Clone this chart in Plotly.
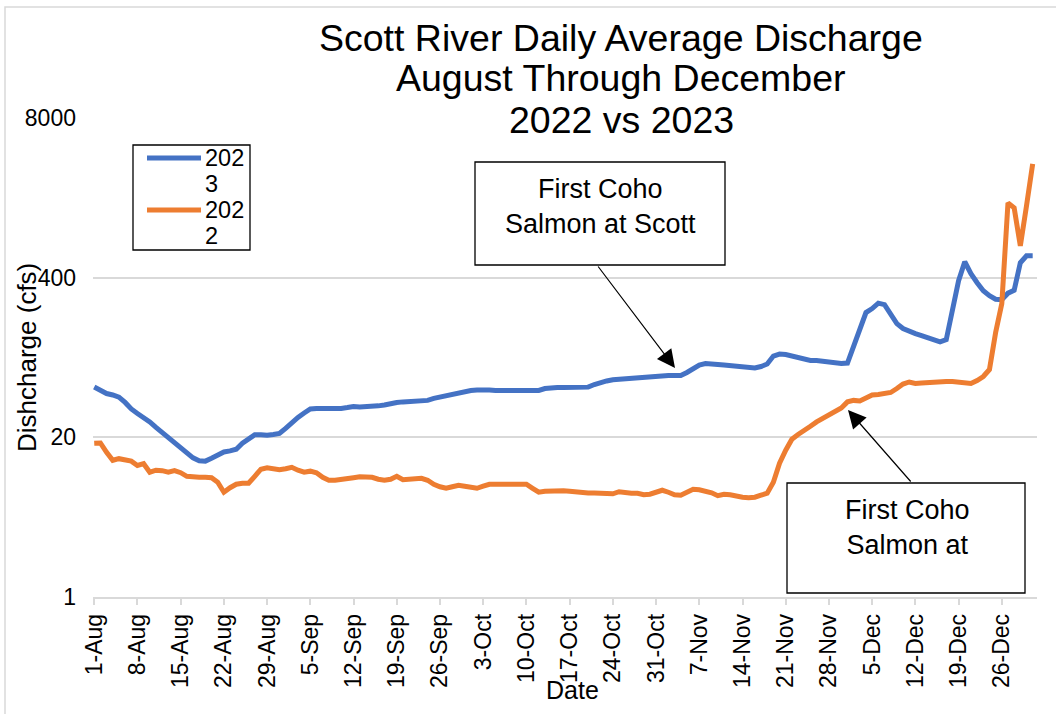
import math
import pandas as pd
import plotly.graph_objects as go

# ---- data ----
dates = [f"{d.day}-{d.strftime('%b')}" for d in pd.date_range("2022-08-01", "2022-12-31")]
tick_labels = dates[::7]
y_ticks = [1, 20, 400, 8000]
series_names = ["2023", "2022"]
series_colors = ["#4472C4", "#ED7D31"]

flow_2023 = [
    51.4, 48.6, 45.5, 44.3, 42.5, 38.5, 34.1, 31.3, 29.1, 26.7,
    24.1, 21.9, 20.0, 17.9, 16.7, 15.1, 13.6, 12.9, 12.8, 13.5,
    14.5, 15.2, 15.5, 16.0, 17.9, 19.6, 21.0, 21.0, 20.8, 21.1,
    21.5, 23.7, 26.5, 29.1, 31.6, 34.1, 34.4, 34.4, 34.1, 33.8,
    34.4, 35.0, 35.7, 35.4, 35.4, 35.7, 36.1, 36.7, 37.8, 38.5,
    38.9, 39.2, 39.4, 39.7, 40.0, 41.5, 42.7, 43.9, 45.1, 46.4,
    47.3, 48.2, 48.6, 49.1, 48.6, 48.2, 48.2, 48.2, 48.2, 48.6,
    49.1, 48.6, 48.2, 50.0, 51.0, 51.0, 51.0, 51.0, 51.0, 51.0,
    51.3, 53.9, 56.0, 57.6, 58.9, 59.5, 60.3, 61.1, 61.7, 62.6,
    63.2, 63.8, 63.8, 63.8, 63.8, 63.8, 67.5, 72.1, 77.7, 79.9,
    79.9, 78.4, 77.7, 76.7, 75.5, 74.4, 73.3, 73.4, 75.5, 79.1,
    91.9, 95.4, 94.5, 91.9, 88.6, 86.1, 84.5, 84.5, 83.2, 82.1,
    81.1, 79.9, 80.6, 112, 154, 208, 224, 248, 241, 204,
    169, 154, 145, 140, 135, 129, 124, 120, 125, 212,
    378, 539, 431, 364, 313, 285, 267, 265, 299, 316,
    529, 603, 603,
]

flow_2022 = [
    17.9, 18.0, 15.1, 13.0, 13.4, 13.2, 12.8, 11.8, 12.2, 10.4,
    10.8, 10.7, 10.4, 10.7, 10.3, 9.63, 9.45, 9.45, 9.45, 9.37,
    8.61, 7.14, 7.77, 8.29, 8.45, 8.45, 9.63, 11.0, 11.3, 11.2,
    10.9, 11.1, 11.4, 10.8, 10.4, 10.6, 10.3, 9.45, 8.94, 8.94,
    9.02, 9.11, 9.37, 9.54, 9.45, 9.45, 9.11, 8.94, 9.11, 9.63,
    9.02, 9.11, 9.37, 9.28, 8.94, 8.29, 7.91, 7.69, 7.91, 8.14,
    7.99, 7.84, 7.69, 7.99, 8.29, 8.29, 8.29, 8.37, 8.45, 8.37,
    8.29, 7.69, 7.14, 7.27, 7.34, 7.41, 7.34, 7.27, 7.14, 7.05,
    7.05, 7.05, 7.05, 7.01, 6.94, 7.21, 7.07, 7.01, 7.01, 6.81,
    6.88, 7.07, 7.41, 7.14, 6.81, 6.75, 7.14, 7.55, 7.48, 7.27,
    7.07, 6.69, 6.88, 6.81, 6.62, 6.50, 6.44, 6.50, 6.75, 7.01,
    8.61, 12.3, 15.7, 19.3, 21.1, 22.6, 24.6, 26.7, 28.5, 30.5,
    32.5, 34.7, 38.9, 40.0, 39.6, 42.3, 44.3, 44.7, 45.1, 46.4,
    50.0, 54.4, 56.5, 54.9, 55.4, 56.0, 56.5, 57.0, 57.0, 57.0,
    56.0, 54.9, 54.9, 58.1, 62.6, 71.4, 143, 246, 1627, 1482,
    727, 1538, 3378,
]

# ---- layout helpers (pixel -> paper) ----
W, H = 1056, 714
PL, PR, PT, PB = 93, 1037, 118, 597


def px(x):
    return (x - PL) / (PR - PL)


def py(y):
    return (PB - y) / (PB - PT)


FONT = "Arial, Liberation Sans, sans-serif"
LW = 5

fig = go.Figure()
for name, vals, col in zip(series_names, [flow_2023, flow_2022], series_colors):
    fig.add_trace(go.Scatter(x=dates, y=vals, name=name, mode="lines",
                             line=dict(color=col, width=LW), showlegend=False))

fig.update_layout(
    width=W, height=H,
    margin=dict(l=PL, r=W - PR, t=PT, b=H - PB),
    paper_bgcolor="white", plot_bgcolor="white",
    font=dict(family=FONT, color="black", size=23),
    showlegend=False,
)

fig.update_xaxes(
    type="category", range=[-0.2, 152.7],
    tickvals=tick_labels, ticktext=tick_labels, tickangle=-90,
    showgrid=False, showline=True, linecolor="#d9d9d9", linewidth=1.5,
    ticks="outside", ticklen=6, tickcolor="#d9d9d9", tickwidth=1.5,
    tickfont=dict(size=23),
)
fig.update_yaxes(
    type="log", range=[0, math.log10(8000)],
    tickvals=y_ticks, ticktext=[str(v) for v in y_ticks],
    showgrid=True, gridcolor="#d9d9d9", gridwidth=1.5,
    zeroline=False, showline=False, ticks="", ticklabelstandoff=16,
    tickfont=dict(size=23),
)

shapes = [
    dict(type="rect", xref="paper", yref="paper", x0=px(5), y0=py(7), x1=px(1200), y1=py(900),
         line=dict(color="#d9d9d9", width=1.5), layer="below"),
    dict(type="rect", xref="paper", yref="paper", x0=px(475), y0=py(162), x1=px(725), y1=py(265),
         line=dict(color="black", width=1.3), fillcolor="white"),
    dict(type="rect", xref="paper", yref="paper", x0=px(787), y0=py(483), x1=px(1025), y1=py(593),
         line=dict(color="black", width=1.3), fillcolor="white"),
    # legend box
    dict(type="rect", xref="paper", yref="paper", x0=px(133), y0=py(145), x1=px(250), y1=py(250),
         line=dict(color="black", width=1.3), fillcolor="white"),
]

ann = []
# legend entries (text wrapped like the original: "202" / last digit)
for i, (name, col) in enumerate(zip(series_names, series_colors)):
    yl = 158 + 52 * i
    shapes.append(dict(type="line", xref="paper", yref="paper", x0=px(147), x1=px(201),
                       y0=py(yl), y1=py(yl), line=dict(color=col, width=LW)))
    for part, dy in [(name[:3], 0), (name[3:], 26)]:
        ann.append(dict(text=part, x=px(204), y=py(yl + dy), xref="paper", yref="paper",
                        showarrow=False, xanchor="left", yanchor="middle",
                        borderpad=0, font=dict(size=23.5)))

fig.update_layout(shapes=shapes)

for txt, yy in [("Scott River Daily Average Discharge", 38),
                ("August Through December", 78),
                ("2022 vs 2023", 120)]:
    ann.append(dict(text=txt, x=px(621), y=py(yy), xref="paper", yref="paper",
                    showarrow=False, xanchor="center", yanchor="middle",
                    font=dict(size=37.5, family=FONT)))
ann.append(dict(text="Dishcharge (cfs)", x=px(27), y=py(358), xref="paper", yref="paper",
                showarrow=False, textangle=-90, xanchor="center", yanchor="middle",
                font=dict(size=26)))
ann.append(dict(text="Date", x=px(572), y=py(690), xref="paper", yref="paper",
                showarrow=False, xanchor="center", yanchor="middle", font=dict(size=25)))
ann.append(dict(text="First Coho<br>Salmon at Scott", x=px(600), y=py(206), xref="paper", yref="paper",
                showarrow=False, xanchor="center", yanchor="middle", font=dict(size=27)))
ann.append(dict(text="First Coho<br>Salmon at", x=px(907), y=py(527), xref="paper", yref="paper",
                showarrow=False, xanchor="center", yanchor="middle", font=dict(size=27)))
ann.append(dict(text="", x=px(675), y=py(368), xref="paper", yref="paper",
                showarrow=True, ax=-78, ay=-103, arrowhead=2, arrowsize=3,
                arrowwidth=1.2, arrowcolor="black", standoff=0))
ann.append(dict(text="", x=px(848), y=py(410), xref="paper", yref="paper",
                showarrow=True, ax=64, ay=73, arrowhead=2, arrowsize=3,
                arrowwidth=1.2, arrowcolor="black", standoff=0))
fig.update_layout(annotations=ann)

fig.write_html("out.html")
